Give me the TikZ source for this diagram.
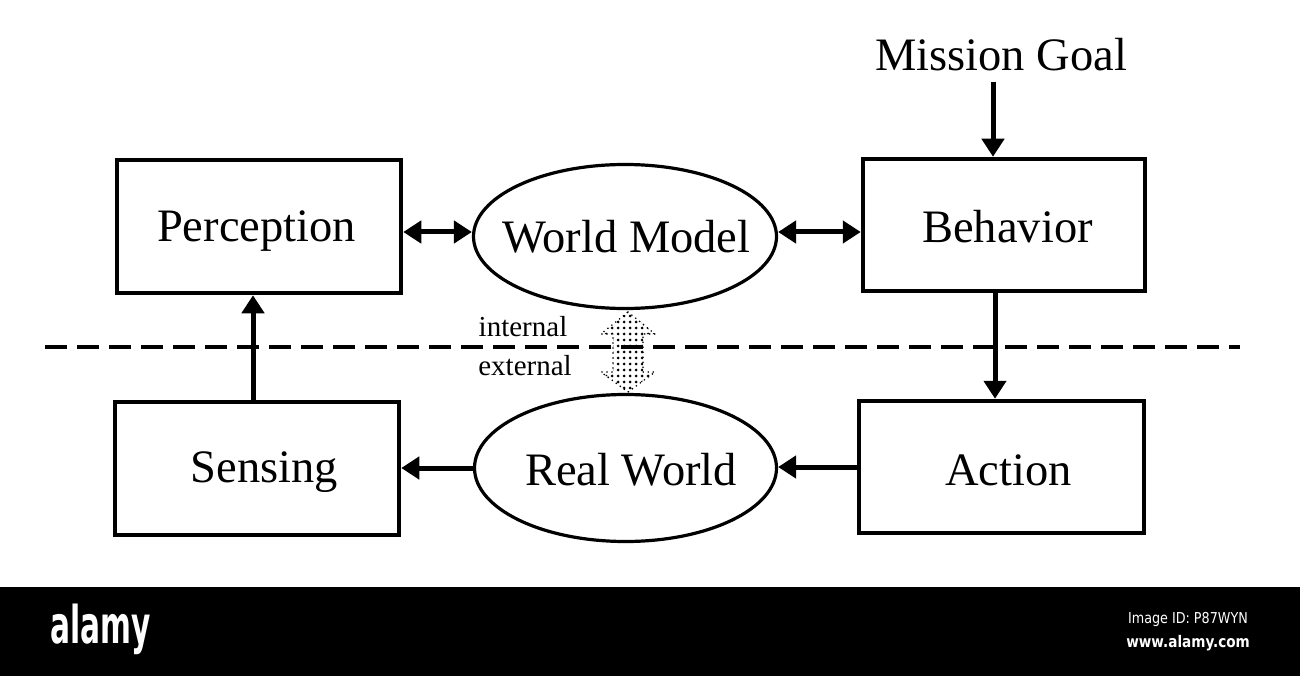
\documentclass[tikz,border=0pt]{standalone}
\usepackage{fontspec}
\setmainfont{Liberation Serif}
\newfontfamily\bannerfont{DejaVu Sans}
\usetikzlibrary{shapes.geometric,arrows.meta,patterns}
\pgfdeclarepatternformonly{bigdots}{\pgfqpoint{-2pt}{-2pt}}{\pgfqpoint{2pt}{2pt}}{\pgfqpoint{6pt}{6pt}}{\pgfpathcircle{\pgfqpoint{0pt}{0pt}}{1.5pt}\pgfusepath{fill}}
\begin{document}
\begin{tikzpicture}[x=1pt,y=-1pt,
  blockbox/.style={draw, line width=4.5pt, rectangle, inner sep=0pt},
  worldell/.style={draw, line width=3.2pt, ellipse, inner sep=0pt},
  lbl/.style={font=\fontsize{46.5}{50}\selectfont, inner sep=0pt, anchor=base},
  arr/.style={line width=5pt, -{Triangle[length=18pt,width=22pt]}},
  dbl/.style={line width=5pt, {Triangle[length=18pt,width=22pt]}-{Triangle[length=18pt,width=22pt]}},
  smalltxt/.style={font=\fontsize{29}{32}\selectfont, inner sep=0pt}
]
\useasboundingbox (0,0) rectangle (1300,676);
\fill[white] (0,0) rectangle (1300,676);

% dashed boundary
\draw[line width=4.5pt, dash pattern=on 22pt off 10pt] (45,347) -- (1240,347);

% blocks
\node[blockbox, minimum width=284pt, minimum height=133pt] (perc) at (259,226.5) {};
\node[blockbox, minimum width=282pt, minimum height=132pt] (beh) at (1004,225) {};
\node[blockbox, minimum width=284pt, minimum height=133pt] (sens) at (257,468.5) {};
\node[blockbox, minimum width=285pt, minimum height=132pt] (act) at (1001.5,467) {};
\node[worldell, minimum width=303pt, minimum height=144pt] (wm) at (625,236.5) {};
\node[worldell, minimum width=302pt, minimum height=147pt] (rw) at (625.5,468) {};

% labels
\node[lbl] (perct) at (256.5,242) {Perception};
\node[lbl] (beht) at (1007.5,243) {Behavior};
\node[lbl] (senst) at (264.5,482) {Sensing};
\node[lbl] (actt) at (1008.5,485) {Action};
\node[lbl] (wmt) at (626.5,252) {World Model};
\node[lbl] (rwt) at (631,485) {Real World};
\node[lbl] (mg) at (1001,71) {Mission Goal};
\coordinate (mgfoot) at (993,82);

% internal / external labels
\node[smalltxt] (intl) at (523,327) {internal};
\node[smalltxt] (extl) at (525,366) {external};

% dotted double arrow
\draw[pattern=bigdots, draw=black, line width=1.8pt, dash pattern=on 0pt off 5pt, line cap=round]
  (628,312) -- (655,334) -- (643,334) -- (643,372) -- (655,372) -- (628,392)
  -- (601,372) -- (613,372) -- (613,334) -- (601,334) -- cycle;

% connectors
\draw[dbl] (perc.east |- 0,232) -- (wm.west |- 0,232);
\draw[dbl] (wm.east |- 0,232) -- (beh.west |- 0,232);
\draw[arr] (mgfoot) -- (mgfoot |- beh.north);
\draw[arr] ([xshift=-9pt]beh.south) -- ([xshift=-9pt]beh.south |- act.north);
\draw[arr] (act.west) -- (act.west -| rw.east);
\draw[arr] (rw.west) -- (rw.west -| sens.east);
\draw[arr] ([xshift=-4pt]sens.north) -- ([xshift=-4pt]sens.north |- perc.south);

% banner
\fill[black] (0,587) rectangle (1300,676);
\node[text=white, inner sep=0pt, xscale=0.57, font=\bannerfont\bfseries\fontsize{52}{56}\selectfont, anchor=base west] (alamy) at (50,643) {alamy};
\node[text=white, inner sep=0pt, xscale=0.85, font=\bannerfont\fontsize{15}{17}\selectfont, anchor=base east] (imgid) at (1248,623) {Image ID: P87WYN};
\node[text=white, inner sep=0pt, xscale=0.85, font=\bannerfont\bfseries\fontsize{16}{18}\selectfont, anchor=base east] (www) at (1250,647) {www.alamy.com};
\end{tikzpicture}
\end{document}
